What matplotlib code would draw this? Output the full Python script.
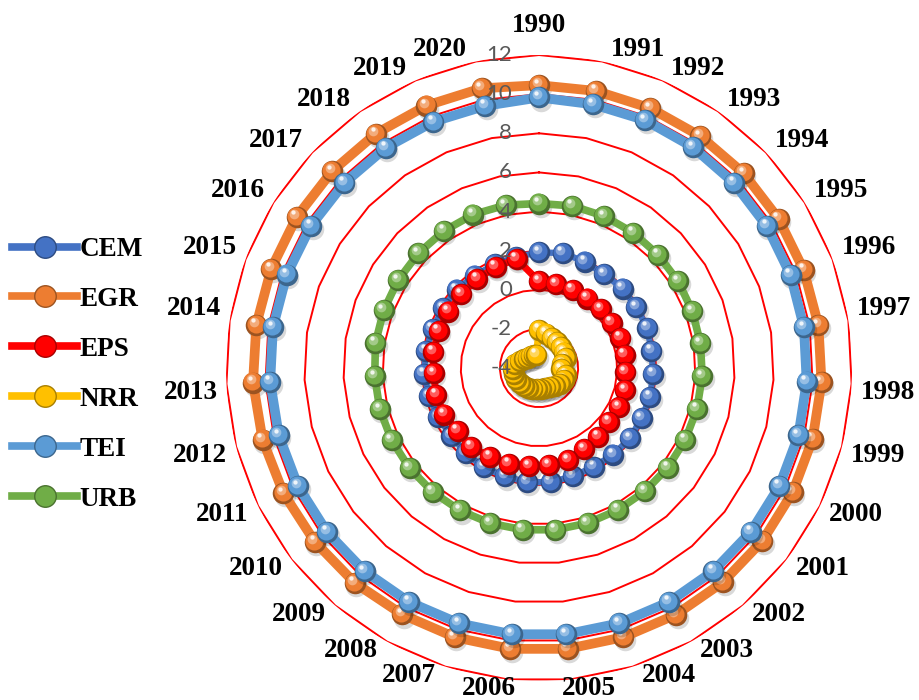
import numpy as np
import matplotlib
matplotlib.use("Agg")
import matplotlib.pyplot as plt
from matplotlib.transforms import offset_copy
from matplotlib.lines import Line2D
from matplotlib.colors import to_rgb

# ---- data -------------------------------------------------------------
years = [str(y) for y in range(1990, 2021)]

cem = [1.91, 2.00, 1.92, 1.84, 1.90, 1.86, 1.91, 1.81, 1.84, 1.86, 1.84,
       1.87, 1.83, 1.77, 1.80, 1.86, 1.86, 1.81, 1.81, 1.74, 1.66, 1.74,
       1.80, 1.90, 1.85, 1.80, 1.78, 1.82, 1.76, 1.76, 1.80]

egr = [10.46, 10.46, 10.45, 10.44, 10.44, 10.43, 10.43, 10.45, 10.46, 10.45,
       10.44, 10.44, 10.43, 10.42, 10.42, 10.43, 10.43, 10.42, 10.41, 10.47,
       10.50, 10.55, 10.60, 10.64, 10.62, 10.60, 10.60, 10.60, 10.60, 10.60,
       10.60]

eps = [0.43, 0.38, 0.34, 0.33, 0.37, 0.37, 0.44, 0.43, 0.42, 0.54, 0.55,
       0.51, 0.63, 0.75, 0.95, 1.00, 1.06, 1.13, 1.18, 1.32, 1.26, 1.40,
       1.44, 1.39, 1.46, 1.47, 1.46, 1.47, 1.54, 1.62, 1.69]

nrr = [-2.04, -2.20, -2.34, -2.40, -2.45, -2.50, -2.54, -2.80, -2.85, -2.59,
       -2.60, -2.66, -2.76, -2.87, -2.92, -2.92, -2.92, -2.87, -2.85, -2.79,
       -2.74, -2.69, -2.68, -2.68, -2.76, -2.97, -3.12, -3.23, -3.28, -3.30,
       -3.32]

tei = [9.83, 9.76, 9.78, 9.76, 9.74, 9.72, 9.71, 9.70, 9.70, 9.70, 9.69,
       9.69, 9.68, 9.68, 9.68, 9.68, 9.68, 9.68, 9.68, 9.69, 9.70, 9.72,
       9.74, 9.76, 9.76, 9.75, 9.74, 9.73, 9.72, 9.70, 9.68]

urb = [4.41, 4.46, 4.45, 4.43, 4.40, 4.38, 4.36, 4.35, 4.35, 4.34, 4.33,
       4.32, 4.31, 4.30, 4.31, 4.31, 4.31, 4.32, 4.33, 4.35, 4.37, 4.39,
       4.41, 4.41, 4.46, 4.47, 4.49, 4.51, 4.53, 4.54, 4.50]

series_names = ["CEM", "EGR", "EPS", "NRR", "TEI", "URB"]
series_values = [cem, egr, eps, nrr, tei, urb]
series_colors = ["#4472C4", "#ED7D31", "#FF0000", "#FFC000", "#5B9BD5", "#70AD47"]
line_widths = [4.5, 7.0, 5.0, 5.0, 7.0, 5.5]

radial_ticks = [-4, -2, 0, 2, 4, 6, 8, 10, 12]

# ---- figure -----------------------------------------------------------
fig = plt.figure(figsize=(9.2, 7), dpi=100)
ax = fig.add_axes([0.2457, 0.0271, 0.6804, 0.8943], projection="polar")
ax.set_theta_zero_location("N")
ax.set_theta_direction(-1)
ax.set_ylim(radial_ticks[0], radial_ticks[-1])
ax.grid(False)
ax.spines["polar"].set_visible(False)
ax.set_xticks([])
ax.set_yticks([])
ax.patch.set_alpha(0)

n = len(years)
theta = np.arange(n) * 2 * np.pi / n
theta_c = np.append(theta, theta[0])

# polygonal gridlines
for lvl in radial_ticks[1:]:
    ax.plot(theta_c, [lvl] * (n + 1), color="#FF0000", lw=1.4, zorder=1)


def shades(color):
    base = np.array(to_rgb(color))
    dark = base * 0.66
    light = base + (1 - base) * 0.45
    return dark, base, light


t_shadow = offset_copy(ax.transData, fig=fig, x=1.2, y=-2.2, units="points")
t_mid = offset_copy(ax.transData, fig=fig, x=-0.6, y=0.8, units="points")
t_light = offset_copy(ax.transData, fig=fig, x=-1.8, y=2.2, units="points")
t_spec = offset_copy(ax.transData, fig=fig, x=-2.3, y=3.3, units="points")

ball = 15.5
for i, (name, vals, col, lw) in enumerate(zip(series_names, series_values,
                                              series_colors, line_widths)):
    z = 10 + i
    vals_c = np.append(vals, vals[0])
    dark, base, light = shades(col)
    ax.plot(theta, vals, "o", ms=ball, mfc="k", mec="none", alpha=0.15,
            transform=t_shadow, zorder=z)
    ax.plot(theta_c, vals_c, color=col, lw=lw, solid_joinstyle="round", zorder=z)
    for a, v in zip(theta, vals):
        ax.plot([a], [v], "o", ms=ball, mfc=dark, mec="none", zorder=z)
        ax.plot([a], [v], "o", ms=ball * 0.84, mfc=base, mec="none",
                transform=t_mid, zorder=z)
        ax.plot([a], [v], "o", ms=ball * 0.45, mfc=light, mec="none",
                alpha=0.8, transform=t_light, zorder=z)
        ax.plot([a], [v], "o", ms=ball * 0.2, mfc="white", mec="none",
                alpha=0.85, transform=t_spec, zorder=z)

# radial value labels along the first spoke
for v in radial_ticks:
    ax.annotate(str(v), xy=(0, v), xytext=(-27, 0), textcoords="offset pixels",
                ha="right", va="center", color="#595959", fontsize=16,
                family="Lato", zorder=50, annotation_clip=False)

# category labels just outside the outer ring
for a, yr in zip(theta, years):
    s, c = np.sin(a), np.cos(a)
    frac = np.clip(s / 0.2, -1, 1)
    dx = 36 * frac
    if c > 0:
        dy = 12 + 18 * (1 - abs(frac))
    else:
        dy = -9
    ax.annotate(yr, xy=(a, radial_ticks[-1]), xytext=(dx, dy),
                textcoords="offset pixels", ha="center", va="center",
                fontsize=19.5, fontweight="bold", family="Liberation Serif",
                zorder=50, annotation_clip=False)

# legend
handles = []
for col in series_colors:
    dark, base, light = shades(col)
    handles.append(Line2D([], [], color=col, lw=5.5, marker="o", ms=ball,
                          mfc=base, mec=dark, mew=1.0))
fig.legend(handles, series_names, loc="upper left",
           bbox_to_anchor=(12 / 920, 1 - 237 / 700), frameon=False,
           prop={"family": "Liberation Serif", "weight": "bold", "size": 19.5},
           handlelength=2.4, handletextpad=0.1, labelspacing=0.92,
           borderaxespad=0.0, borderpad=0.0)

fig.savefig("out.png", dpi=100)
